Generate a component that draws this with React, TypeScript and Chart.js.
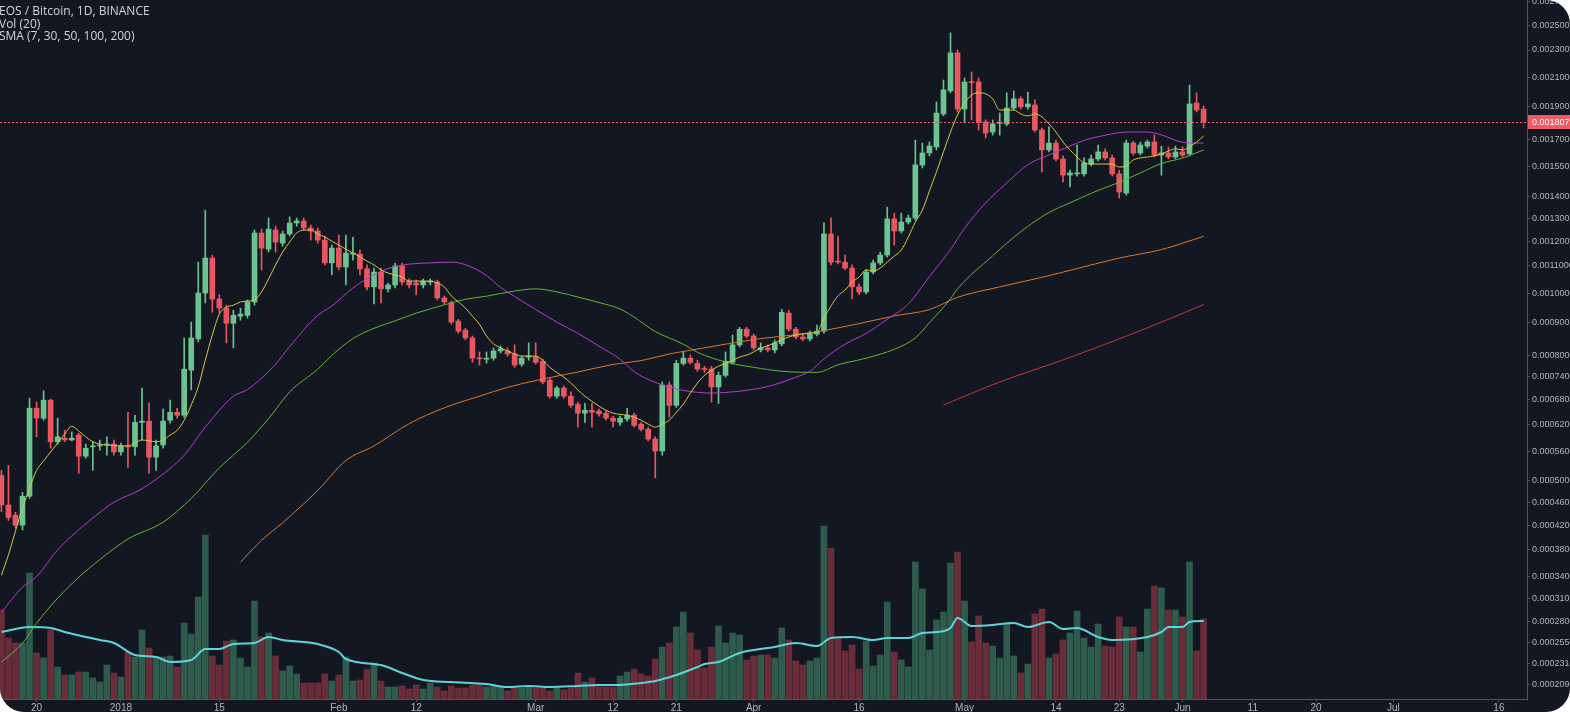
import React, { useEffect, useRef } from "react";
import { Chart, registerables, LinearScale } from "chart.js";

// ---------- data (prices in µBTC, i.e. 1e-6 BTC; day 0 = 2018-01-01) ----------
const FIRST_DAY = -17; // 2017-12-15

const OPEN = [
  511, 455, 437, 420, 471, 659, 635, 679, 581, 589,
  585, 596, 550, 570, 572, 574, 576, 559, 572, 570,
  625, 628, 548, 574, 630, 649, 642, 758, 849, 1000,
  1131, 979, 948, 898, 921, 924, 969, 1234, 1167, 1247,
  1192, 1230, 1278, 1287, 1256, 1243, 1204, 1112, 1171, 1096,
  1147, 1147, 1089, 1022, 1077, 1015, 1029, 1100, 1043, 1036,
  1029, 1040, 1040, 983, 966, 905, 876, 852, 792, 789,
  792, 813, 813, 804, 775, 795, 795, 783, 731, 689,
  710, 689, 669, 647, 654, 652, 647, 635, 625, 633,
  642, 621, 609, 587, 561, 718, 666, 777, 792, 777,
  762, 761, 713, 744, 780, 831, 879, 858, 816, 822,
  816, 834, 931, 879, 855, 849, 864, 873, 1230, 1119,
  1115, 1092, 1022, 1004, 1077, 1112, 1143, 1296, 1243, 1282,
  1300, 1560, 1625, 1659, 1855, 2005, 2278, 1886, 2068, 2066,
  1806, 1745, 1798, 1794, 1893, 1952, 1900, 1912, 1757, 1642,
  1681, 1592, 1507, 1513, 1513, 1565, 1592, 1631, 1598, 1513,
  1417, 1681, 1625, 1664, 1687, 1614, 1625, 1603, 1631, 1620,
  1925, 1886,
];
const HIGH = [
  521, 531, 442, 478, 684, 674, 703, 682, 635, 607,
  603, 600, 576, 581, 585, 592, 585, 578, 649, 642,
  710, 672, 585, 657, 679, 659, 852, 902, 1115, 1336,
  1143, 994, 958, 941, 948, 976, 1247, 1251, 1300, 1264,
  1243, 1305, 1300, 1300, 1269, 1256, 1221, 1183, 1225, 1225,
  1217, 1163, 1104, 1092, 1092, 1036, 1111, 1111, 1051, 1047,
  1051, 1051, 1047, 990, 972, 911, 882, 858, 810, 810,
  822, 828, 822, 831, 798, 837, 837, 789, 736, 715,
  715, 700, 674, 671, 671, 657, 652, 640, 640, 659,
  647, 625, 614, 592, 726, 726, 786, 810, 801, 786,
  769, 769, 753, 810, 861, 885, 885, 864, 837, 831,
  846, 944, 941, 885, 864, 873, 892, 1278, 1300, 1221,
  1143, 1104, 1033, 1085, 1123, 1155, 1350, 1322, 1322, 1314,
  1698, 1681, 1687, 1932, 2080, 2435, 2301, 2094, 2137, 2094,
  1818, 1818, 1861, 1992, 2005, 1965, 1998, 1945, 1769, 1776,
  1698, 1609, 1533, 1670, 1598, 1614, 1670, 1648, 1614, 1533,
  1698, 1692, 1687, 1698, 1727, 1664, 1659, 1664, 1659, 2046,
  1992, 1906,
];
const LOW = [
  443, 428, 415, 412, 467, 592, 630, 567, 576, 581,
  583, 515, 546, 521, 563, 552, 552, 552, 527, 552,
  585, 515, 521, 567, 623, 635, 637, 705, 840, 966,
  934, 931, 837, 822, 908, 915, 958, 1085, 1155, 1155,
  1179, 1221, 1264, 1247, 1204, 1192, 1104, 1066, 1085, 1029,
  1123, 1066, 1011, 962, 966, 1004, 1018, 1029, 1018, 994,
  1018, 1029, 976, 962, 895, 867, 846, 780, 772, 778,
  786, 807, 798, 766, 769, 786, 775, 721, 684, 684,
  684, 661, 614, 625, 614, 640, 630, 614, 618, 628,
  614, 605, 583, 506, 552, 637, 661, 772, 775, 755,
  752, 674, 671, 739, 775, 825, 852, 816, 810, 810,
  807, 828, 873, 849, 843, 843, 858, 867, 1104, 1108,
  1085, 979, 994, 997, 1070, 1104, 1135, 1183, 1234, 1273,
  1291, 1544, 1609, 1642, 1843, 1992, 1868, 1800, 1818, 1757,
  1710, 1727, 1727, 1782, 1880, 1886, 1886, 1745, 1523, 1631,
  1582, 1472, 1447, 1502, 1502, 1555, 1582, 1587, 1502, 1393,
  1407, 1614, 1614, 1653, 1603, 1507, 1592, 1592, 1603, 1609,
  1868, 1769,
];
const CLOSE = [
  455, 433, 420, 471, 659, 635, 679, 581, 592, 585,
  589, 550, 567, 572, 574, 576, 559, 572, 570, 625,
  628, 548, 572, 628, 649, 642, 761, 852, 1000, 1131,
  979, 948, 898, 924, 928, 969, 1234, 1171, 1251, 1196,
  1230, 1278, 1287, 1256, 1243, 1204, 1112, 1171, 1096, 1151,
  1151, 1089, 1022, 1077, 1015, 1029, 1100, 1040, 1029, 1029,
  1043, 1043, 983, 969, 902, 873, 852, 792, 790, 792,
  813, 819, 804, 772, 792, 798, 780, 726, 689, 710,
  689, 666, 647, 654, 649, 645, 635, 628, 635, 642,
  618, 609, 587, 561, 718, 666, 777, 792, 780, 761,
  760, 713, 744, 783, 831, 879, 858, 822, 822, 816,
  837, 934, 879, 855, 849, 864, 873, 1230, 1115, 1115,
  1092, 1022, 1004, 1077, 1112, 1143, 1296, 1243, 1282, 1300,
  1560, 1625, 1664, 1861, 2012, 2278, 1886, 2066, 2062, 1806,
  1739, 1794, 1802, 1893, 1952, 1900, 1919, 1757, 1642, 1681,
  1592, 1507, 1518, 1518, 1571, 1592, 1631, 1598, 1513, 1422,
  1681, 1625, 1670, 1687, 1614, 1625, 1603, 1631, 1614, 1919,
  1880, 1807.5,
];
// volume (relative units)
const VOLUME = [
  89, 61, 56, 56, 126, 46, 41, 69, 32, 24,
  24, 27, 27, 21, 17, 34, 26, 22, 47, 42,
  69, 51, 42, 42, 43, 32, 76, 65, 102, 164,
  43, 34, 58, 59, 41, 32, 98, 62, 66, 43,
  28, 33, 25, 16, 16, 16, 25, 18, 24, 42,
  18, 19, 30, 36, 18, 12, 12, 13, 10, 14,
  10, 16, 12, 8, 13, 11, 11, 14, 14, 12,
  13, 13, 8, 11, 11, 12, 11, 11, 8, 11,
  9, 11, 26, 17, 21, 12, 12, 12, 23, 27,
  30, 25, 23, 40, 52, 56, 72, 87, 66, 49,
  31, 52, 73, 56, 66, 64, 39, 43, 44, 44,
  41, 71, 59, 38, 34, 38, 41, 173, 151, 61,
  48, 54, 30, 58, 33, 44, 97, 47, 39, 32,
  137, 110, 49, 79, 87, 136, 147, 98, 57, 83,
  56, 53, 41, 75, 43, 26, 35, 85, 90, 41,
  45, 59, 66, 88, 61, 52, 75, 53, 52, 82,
  72, 72, 47, 90, 113, 111, 89, 89, 82, 137,
  48, 80,
];
const VOL_SMA_DAYS = [-17, -13, -10, -8, -3, -1, 2, 5, 7, 10, 12, 14, 16, 19, 21, 23, 28, 31, 32, 37, 40, 43, 47, 52, 55, 58, 61, 65, 68, 71, 74, 76, 79, 82, 83, 85, 88, 91, 93, 96, 99, 101, 104, 107, 109, 112, 114, 116, 118, 119, 121, 124, 127, 129, 132, 134, 136, 139, 141, 146, 148, 149, 151, 152, 154];
const VOL_SMA = [67, 72, 71, 67, 59, 56, 44, 42, 37, 39, 50, 50, 55, 56, 62, 59, 55, 47, 40, 34, 26, 19, 17, 15, 12, 13, 12, 13, 14, 14, 16, 18, 24, 32, 35, 37, 46, 50, 52, 56, 53, 61, 62, 59, 61, 61, 66, 67, 71, 81, 73, 74, 76, 72, 77, 70, 71, 62, 59, 62, 67, 72, 72, 77, 78];

// SMA 7 — one value per candle day
const SMA7 = [
  342, 372, 410, 450, 486, 521, 540, 559, 578, 598,
  616, 605, 592, 581, 576, 574, 573, 572, 572, 578,
  585, 583, 581, 585, 596, 607, 630, 667, 713, 786,
  861, 928, 951, 958, 969, 972, 976, 1004, 1051, 1104,
  1155, 1196, 1234, 1247, 1247, 1230, 1217, 1200, 1183, 1167,
  1151, 1135, 1119, 1104, 1085, 1073, 1066, 1058, 1043, 1043,
  1043, 1043, 1036, 1022, 990, 969, 948, 921, 895, 858,
  834, 822, 813, 804, 798, 798, 798, 786, 766, 752,
  739, 723, 705, 689, 676, 664, 654, 647, 644, 642,
  637, 630, 621, 614, 621, 630, 649, 669, 697, 723,
  744, 758, 769, 777, 786, 795, 801, 810, 822, 828,
  837, 846, 855, 861, 864, 867, 870, 915, 955, 990,
  1011, 1040, 1058, 1085, 1081, 1092, 1115, 1139, 1163, 1217,
  1282, 1336, 1427, 1523, 1631, 1745, 1849, 1926, 1978, 1992,
  1985, 1952, 1880, 1880, 1880, 1855, 1843, 1855, 1837, 1794,
  1745, 1687, 1642, 1603, 1571, 1565, 1565, 1565, 1565, 1549,
  1555, 1587, 1598, 1603, 1609, 1620, 1636, 1648, 1642, 1659,
  1687, 1721,
];
const SMA30_DAYS = [-17, -14, -12, -9, -7, -4, -1, 3, 7, 9, 12, 16, 18, 22, 24, 28, 30, 33, 35, 38, 41, 44, 47, 49, 52, 54, 56, 59, 62, 65, 68, 71, 73, 76, 80, 84, 87, 91, 93, 96, 98, 100, 103, 106, 109, 112, 115, 118, 120, 123, 126, 129, 132, 135, 137, 140, 143, 146, 148, 151, 153, 154];
const SMA30 = [292, 325, 340, 380, 402, 432, 460, 485, 525, 552, 614, 689, 706, 775, 826, 924, 955, 1018, 1052, 1090, 1107, 1112, 1115, 1105, 1064, 1020, 988, 943, 902, 866, 827, 789, 754, 725, 704, 697, 700, 710, 719, 739, 755, 790, 833, 866, 911, 962, 1060, 1165, 1255, 1370, 1467, 1562, 1614, 1664, 1696, 1726, 1745, 1745, 1728, 1685, 1681, 1681];
const SMA50_DAYS = [-17, -14, -12, -9, -6, -3, 1, 6, 10, 14, 18, 21, 24, 28, 30, 33, 36, 39, 42, 46, 49, 52, 56, 59, 62, 65, 68, 71, 73, 76, 80, 82, 86, 90, 94, 99, 102, 106, 110, 113, 115, 118, 119, 124, 128, 132, 135, 139, 142, 145, 148, 151, 154];
const SMA50 = [233, 254, 278, 310, 339, 365, 397, 425, 467, 526, 580, 634, 700, 761, 800, 850, 882, 906, 931, 959, 978, 989, 1007, 1015, 1004, 986, 967, 945, 918, 872, 833, 809, 781, 766, 755, 752, 773, 792, 818, 852, 900, 980, 1015, 1140, 1240, 1325, 1370, 1430, 1470, 1518, 1568, 1597, 1642];
const SMA100_DAYS = [17, 20, 23, 28, 32, 36, 41, 46, 51, 55, 60, 65, 70, 74, 78, 81, 86, 91, 96, 100, 105, 110, 115, 119, 125, 131, 136, 142, 148, 154];
const SMA100 = [361, 395, 424, 482, 541, 572, 622, 660, 689, 712, 734, 753, 774, 785, 804, 815, 833, 850, 862, 875, 897, 922, 943, 985, 1022, 1057, 1090, 1131, 1165, 1220];
const SMA200_DAYS = [117, 125, 134, 142, 149, 154];
const SMA200 = [667, 726, 787, 849, 911, 960];

const Y_TICKS = [2700, 2500, 2300, 2100, 1900, 1700, 1550, 1400, 1300, 1200, 1100, 1000, 900, 800, 740, 680, 620, 560, 500, 460, 420, 380, 340, 310, 280, 255, 231, 209];
const X_TICK_DAYS = [-12, 0, 14, 31, 42, 59, 70, 79, 90, 105, 120, 133, 142, 151, 161, 170, 181, 196];
const X_TICK_LABELS = ["20", "2018", "15", "Feb", "12", "Mar", "12", "21", "Apr", "16", "May", "14", "23", "Jun", "11", "20", "Jul", "16"];
const LEGEND_LINES = ["EOS / Bitcoin, 1D, BINANCE", "Vol (20)", "SMA (7, 30, 50, 100, 200)"];

// ---------- styling ----------
const BG = "#131722";
const UP = "#6bc490";
const DOWN = "#e8575f";
const UP_VOL = "rgba(83,185,135,0.42)";
const DOWN_VOL = "rgba(235,77,92,0.40)";
const AXIS = "#50535e";
const TEXT = "#b2b5be";
const PRICE_COLOR = "#ef5a66";

const Y_MIN = 195;
const Y_MAX = 2717;
const X_MIN = -17.2;
const X_MAX = 200;
const SHIFT = 108;

Chart.register(...registerables);

class ShiftedLogScale extends LinearScale {
  static id = "shiftedLog";
  getPixelForValue(value: number) {
    const a = Math.log(this.min + SHIFT);
    const b = Math.log(this.max + SHIFT);
    return this.getPixelForDecimal((Math.log(value + SHIFT) - a) / (b - a));
  }
  getValueForPixel(pixel: number) {
    const a = Math.log(this.min + SHIFT);
    const b = Math.log(this.max + SHIFT);
    return Math.exp(a + this.getDecimalForPixel(pixel) * (b - a)) - SHIFT;
  }
}
Chart.register(ShiftedLogScale as any);

const LAST_PRICE = CLOSE[CLOSE.length - 1];
const AXIS_FONT = "'Liberation Sans', Arial, sans-serif";

const priceLinePlugin = {
  id: "priceLine",
  afterDatasetsDraw(chart: any) {
    const { ctx, chartArea, scales } = chart;
    const y = Math.round(scales.y.getPixelForValue(LAST_PRICE)) + 0.5;
    ctx.save();
    ctx.strokeStyle = PRICE_COLOR;
    ctx.lineWidth = 1;
    ctx.setLineDash([2, 2]);
    ctx.beginPath();
    ctx.moveTo(chartArea.left, y);
    ctx.lineTo(chartArea.right, y);
    ctx.stroke();
    ctx.restore();
  },
  afterDraw(chart: any) {
    const { ctx, chartArea, scales, width } = chart;
    const y = Math.round(scales.y.getPixelForValue(LAST_PRICE));
    ctx.save();
    ctx.fillStyle = PRICE_COLOR;
    ctx.fillRect(chartArea.right + 1, y - 7, width - chartArea.right, 14);
    ctx.fillStyle = "#ffffff";
    ctx.font = `9px ${AXIS_FONT}`;
    ctx.textBaseline = "middle";
    ctx.textAlign = "left";
    ctx.fillText((LAST_PRICE * 1e-6).toFixed(7), chartArea.right + 5, y + 0.5);
    ctx.restore();
  },
};

export default function App() {
  const canvasRef = useRef<HTMLCanvasElement | null>(null);

  useEffect(() => {
    const canvas = canvasRef.current;
    if (!canvas) return;
    const days = OPEN.map((_, i) => FIRST_DAY + i);
    const up = OPEN.map((o, i) => CLOSE[i] >= o);
    const candleColors = up.map((u) => (u ? UP : DOWN));
    const volColors = up.map((u) => (u ? UP_VOL : DOWN_VOL));
    const line = (xs: number[], ys: number[], color: string, order: number, width = 1, axis = "y") => ({
      type: "line" as const,
      data: xs.map((x, i) => ({ x, y: ys[i] })),
      yAxisID: axis,
      borderColor: color,
      borderWidth: width,
      pointRadius: 0,
      fill: false,
      cubicInterpolationMode: "monotone" as const,
      order,
    });

    const chart = new Chart(canvas, {
      type: "bar",
      data: {
        datasets: [
          {
            type: "bar",
            data: days.map((d, i) => ({ x: d, y: VOLUME[i] })),
            yAxisID: "yVol",
            backgroundColor: volColors,
            barThickness: 6,
            grouped: false,
            order: 20,
          } as any,
          line(VOL_SMA_DAYS, VOL_SMA, "#5fd4d8", 19, 2, "yVol"),
          {
            type: "bar",
            data: days.map((d, i) => ({ x: d, y: [LOW[i], HIGH[i]] })),
            yAxisID: "y",
            backgroundColor: candleColors,
            barThickness: 1,
            grouped: false,
            order: 11,
          } as any,
          {
            type: "bar",
            data: days.map((d, i) => ({ x: d, y: [OPEN[i], CLOSE[i]] })),
            yAxisID: "y",
            backgroundColor: candleColors,
            barThickness: 5,
            minBarLength: 1,
            grouped: false,
            order: 10,
          } as any,
          line(SMA200_DAYS, SMA200, "#c23a35", 5),
          line(SMA100_DAYS, SMA100, "#d9782e", 4),
          line(SMA50_DAYS, SMA50, "#62b53a", 3),
          line(SMA30_DAYS, SMA30, "#b43fcc", 2),
          line(days, SMA7, "#d6c948", 1),
        ],
      },
      options: {
        responsive: false,
        animation: false,
        events: [],
        layout: { padding: 0 },
        plugins: { legend: { display: false }, tooltip: { enabled: false } },
        scales: {
          x: {
            type: "linear",
            position: "bottom",
            offset: false,
            min: X_MIN,
            max: X_MAX,
            afterBuildTicks: (s: any) => {
              s.ticks = X_TICK_DAYS.map((v) => ({ value: v }));
            },
            afterFit: (s: any) => {
              s.height = 13;
              s.paddingLeft = 0;
              s.paddingRight = 0;
            },
            ticks: {
              autoSkip: false,
              maxRotation: 0,
              padding: 0,
              color: TEXT,
              font: { family: AXIS_FONT, size: 10 },
              callback: (_v: any, i: number) => X_TICK_LABELS[i],
            },
            grid: { offset: false, drawOnChartArea: false, drawTicks: true, tickLength: 3, color: AXIS },
            border: { display: true, color: AXIS },
          },
          y: {
            type: "shiftedLog" as any,
            position: "right",
            min: Y_MIN,
            max: Y_MAX,
            bounds: "data",
            afterBuildTicks: (s: any) => {
              s.ticks = Y_TICKS.map((v) => ({ value: v }));
            },
            afterFit: (s: any) => {
              s.width = 43;
              s.paddingTop = 0;
              s.paddingBottom = 0;
            },
            ticks: {
              autoSkip: false,
              padding: 2,
              color: TEXT,
              font: { family: AXIS_FONT, size: 9 },
              callback: (v: any) => (Number(v) * 1e-6).toFixed(7),
            },
            grid: { drawOnChartArea: false, drawTicks: true, tickLength: 3, color: AXIS },
            border: { display: true, color: AXIS },
          } as any,
          yVol: { type: "linear", display: false, min: 0, max: 699 },
        },
      } as any,
      plugins: [priceLinePlugin],
    });
    return () => chart.destroy();
  }, []);

  return (
    <div style={{ position: "fixed", left: 0, top: 0, width: 1570, height: 712, background: "#ffffff" }}>
      <div
        style={{
          position: "absolute",
          inset: 0,
          background: BG,
          borderRadius: "0 24px 24px 24px",
          overflow: "hidden",
        }}
      >
        <canvas ref={canvasRef} width={1570} height={712} style={{ position: "absolute", left: 0, top: 0 }} />
        <div
          style={{
            position: "absolute",
            left: -1,
            top: 5,
            color: "#d1d4dc",
            fontFamily: "'Open Sans', 'Noto Sans', sans-serif",
            fontSize: 12,
            lineHeight: "12.6px",
            whiteSpace: "pre",
          }}
        >
          {LEGEND_LINES.map((t) => (
            <div key={t}>{t}</div>
          ))}
        </div>
      </div>
    </div>
  );
}
